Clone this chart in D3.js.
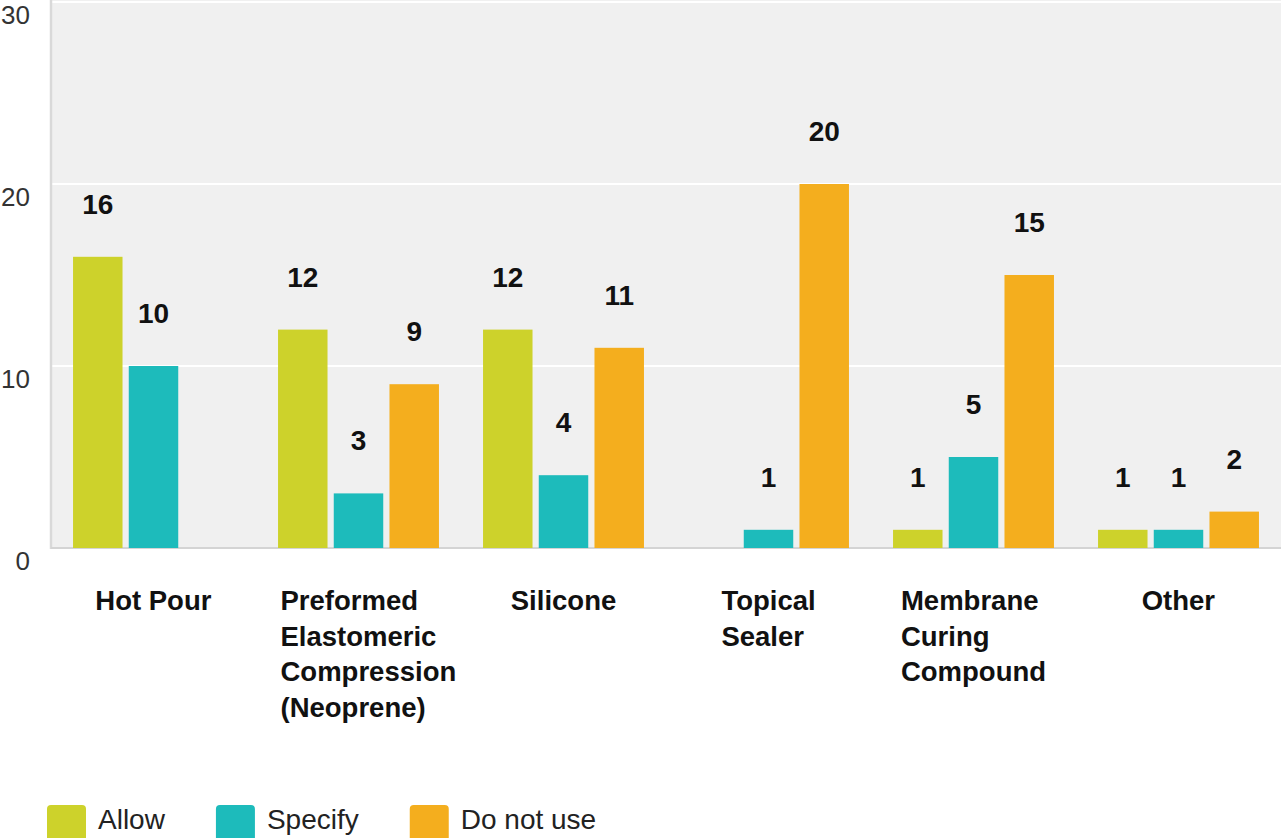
<!DOCTYPE html>
<html>
<head>
<meta charset="utf-8">
<script src="https://cdn.jsdelivr.net/npm/d3@7"></script>
<style>
  html, body { margin: 0; padding: 0; background: #ffffff; overflow: hidden; }
  svg { display: block; }
</style>
</head>
<body>
<svg id="chart" width="1281" height="838"></svg>
<script>
// Sealant / joint product usage by category
const categories = [
  ["Hot Pour"],
  ["Preformed", "Elastomeric", "Compression", "(Neoprene)"],
  ["Silicone"],
  ["Topical", "Sealer"],
  ["Membrane", "Curing", "Compound"],
  ["Other"]
];
const categoryKeys = ["Hot Pour", "Preformed Elastomeric Compression (Neoprene)", "Silicone", "Topical Sealer", "Membrane Curing Compound", "Other"];
const seriesNames = ["Allow", "Specify", "Do not use"];
const allowValues    = [16, 12, 12, null, 1, 1];
const specifyValues  = [10, 3, 4, 1, 5, 1];
const doNotUseValues = [null, 9, 11, 20, 15, 2];
const yTicks = [0, 10, 20, 30];
const seriesColors = ["#cdd22b", "#1dbbbb", "#f4ae1e"];

const seriesValues = [allowValues, specifyValues, doNotUseValues];

const svg = d3.select("#chart");
const plot = { left: 51, right: 1281, top: 0, bottom: 548 };

const y = d3.scaleLinear().domain([0, 30]).range([548, 2]);
const x0 = d3.scaleBand()
  .domain(categoryKeys)
  .range([plot.left, plot.right])
  .paddingInner(0.215)
  .paddingOuter(0.1075);
const x1 = d3.scaleBand()
  .domain(seriesNames)
  .range([0, x0.bandwidth()])
  .paddingInner(0.112);

// plot background
svg.append("rect")
  .attr("x", plot.left).attr("y", plot.top)
  .attr("width", plot.right - plot.left).attr("height", plot.bottom - plot.top)
  .attr("fill", "#f0f0f0");

// horizontal gridlines
svg.append("g")
  .selectAll("line")
  .data(yTicks.filter(d => d > 0))
  .join("line")
  .attr("x1", plot.left).attr("x2", plot.right)
  .attr("y1", d => y(d)).attr("y2", d => y(d))
  .attr("stroke", "#ffffff").attr("stroke-width", 2);

// left and bottom borders
svg.append("line")
  .attr("x1", plot.left).attr("x2", plot.left)
  .attr("y1", plot.top).attr("y2", plot.bottom + 1)
  .attr("stroke", "#d9d9d9").attr("stroke-width", 2.5);
svg.append("line")
  .attr("x1", plot.left).attr("x2", plot.right)
  .attr("y1", plot.bottom).attr("y2", plot.bottom)
  .attr("stroke", "#d4d4d4").attr("stroke-width", 2);

// y axis labels (sit just below each gridline)
svg.append("g")
  .selectAll("text")
  .data(yTicks)
  .join("text")
  .attr("x", 30)
  .attr("y", d => y(d) + 22)
  .attr("text-anchor", "end")
  .attr("font-family", "Liberation Sans, Arial, sans-serif")
  .attr("font-size", 26)
  .attr("fill", "#333333")
  .text(d => d);

// bars
const rows = [];
categoryKeys.forEach((cat, i) => {
  seriesNames.forEach((s, j) => {
    const v = seriesValues[j][i];
    if (v !== null && v !== undefined) rows.push({ cat, series: s, value: v, color: seriesColors[j] });
  });
});

const bars = svg.append("g");
bars.selectAll("rect")
  .data(rows)
  .join("rect")
  .attr("x", d => x0(d.cat) + x1(d.series))
  .attr("y", d => y(d.value))
  .attr("width", x1.bandwidth())
  .attr("height", d => y(0) - y(d.value))
  .attr("fill", d => d.color);

// value labels
bars.selectAll("text")
  .data(rows)
  .join("text")
  .attr("x", d => x0(d.cat) + x1(d.series) + x1.bandwidth() / 2)
  .attr("y", d => y(d.value) - 43)
  .attr("text-anchor", "middle")
  .attr("font-family", "Liberation Sans, Arial, sans-serif")
  .attr("font-weight", "bold")
  .attr("font-size", 28)
  .attr("fill", "#111111")
  .text(d => d.value);

// category labels: lines left-aligned inside a box (max 156px) centred under its group
const catG = svg.append("g");
categoryKeys.forEach((cat, i) => {
  const lines = categories[i];
  const t = catG.append("text")
    .attr("font-family", "Liberation Sans, Arial, sans-serif")
    .attr("font-weight", "bold")
    .attr("font-size", 27.5)
    .attr("fill", "#111111");
  lines.forEach((ln, k) => {
    t.append("tspan").attr("x", 0).attr("y", 610 + k * 35.5).text(ln);
  });
  const w = Math.min(t.node().getBBox().width, 156);
  const cx = x0(cat) + x0.bandwidth() / 2;
  t.attr("transform", `translate(${cx - w / 2},0)`);
});

// legend
const legend = svg.append("g");
let lx = 47;
seriesNames.forEach((s, j) => {
  legend.append("rect")
    .attr("x", lx).attr("y", 805)
    .attr("width", 39).attr("height", 40)
    .attr("rx", 4)
    .attr("fill", seriesColors[j]);
  const t = legend.append("text")
    .attr("x", lx + 51).attr("y", 829)
    .attr("font-family", "Liberation Sans, Arial, sans-serif")
    .attr("font-size", 28)
    .attr("fill", "#222222")
    .text(s);
  lx += 51 + t.node().getComputedTextLength() + 51;
});
</script>
</body>
</html>
